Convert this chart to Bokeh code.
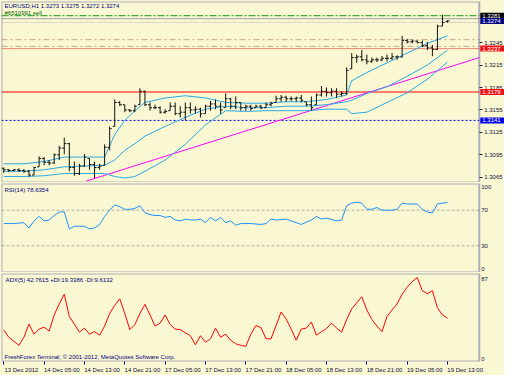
from bokeh.plotting import figure
from bokeh.models import (Range1d, FixedTicker, Label, NumeralTickFormatter, ColumnDataSource,
                          LinearAxis, BoxAnnotation)
from bokeh.layouts import column
from bokeh.embed import file_html
from bokeh.resources import INLINE

# ---------------- data ----------------
bar_idx = list(range(89))
opens = [1.3077,1.3075,1.3074,1.3075,1.3074,1.3073,1.3068,1.3079,1.3090,1.3085,
         1.3084,1.3095,1.3104,1.3110,1.3078,1.3070,1.3080,1.3090,1.3082,1.3078,
         1.3081,1.3105,1.3133,1.3165,1.3162,1.3155,1.3154,1.3162,1.3180,1.3162,
         1.3158,1.3158,1.3152,1.3154,1.3160,1.3150,1.3152,1.3158,1.3155,1.3156,
         1.3150,1.3160,1.3163,1.3160,1.3158,1.3170,1.3160,1.3165,1.3158,1.3160,
         1.3158,1.3160,1.3158,1.3162,1.3165,1.3170,1.3172,1.3170,1.3170,1.3171,
         1.3166,1.3162,1.3162,1.3175,1.3180,1.3178,1.3180,1.3176,1.3177,1.3210,
         1.3225,1.3226,1.3222,1.3220,1.3222,1.3222,1.3224,1.3224,1.3226,1.3226,
         1.3248,1.3246,1.3247,1.3245,1.3241,1.3238,1.3236,1.3267,1.3273]
highs = [1.3078,1.3076,1.3076,1.3077,1.3076,1.3075,1.3079,1.3093,1.3092,1.3088,
         1.3097,1.3107,1.3118,1.3111,1.3086,1.3083,1.3096,1.3090,1.3086,1.3083,
         1.3109,1.3133,1.3169,1.3167,1.3162,1.3156,1.3162,1.3184,1.3181,1.3165,
         1.3162,1.3160,1.3156,1.3165,1.3165,1.3160,1.3165,1.3165,1.3160,1.3158,
         1.3162,1.3167,1.3169,1.3165,1.3177,1.3171,1.3173,1.3165,1.3162,1.3162,
         1.3162,1.3162,1.3165,1.3166,1.3174,1.3175,1.3174,1.3173,1.3173,1.3175,
         1.3166,1.3173,1.3177,1.3187,1.3185,1.3184,1.3184,1.3180,1.3212,1.3231,
         1.3229,1.3235,1.3229,1.3225,1.3225,1.3227,1.3229,1.3231,1.3228,1.3254,
         1.3250,1.3249,1.3248,1.3248,1.3246,1.3242,1.3269,1.3282,1.3275]
lows = [1.3071,1.3072,1.3073,1.3072,1.3071,1.3066,1.3068,1.3079,1.3081,1.3081,
        1.3083,1.3088,1.3096,1.3073,1.3067,1.3068,1.3079,1.3075,1.3064,1.3075,
        1.3081,1.3101,1.3133,1.3160,1.3152,1.3152,1.3152,1.3162,1.3160,1.3154,
        1.3156,1.3150,1.3150,1.3154,1.3148,1.3145,1.3141,1.3150,1.3150,1.3145,
        1.3150,1.3154,1.3156,1.3150,1.3158,1.3156,1.3156,1.3154,1.3154,1.3154,
        1.3158,1.3156,1.3158,1.3160,1.3165,1.3166,1.3166,1.3167,1.3166,1.3165,
        1.3160,1.3154,1.3162,1.3173,1.3173,1.3173,1.3171,1.3173,1.3175,1.3210,
        1.3218,1.3220,1.3216,1.3218,1.3219,1.3220,1.3220,1.3222,1.3222,1.3225,
        1.3244,1.3244,1.3244,1.3239,1.3235,1.3227,1.3235,1.3267,1.3272]
closes = [1.3075,1.3074,1.3075,1.3074,1.3073,1.3068,1.3078,1.3090,1.3085,1.3084,
          1.3095,1.3104,1.3110,1.3078,1.3070,1.3080,1.3092,1.3082,1.3078,1.3080,
          1.3105,1.3130,1.3165,1.3162,1.3155,1.3154,1.3160,1.3180,1.3162,1.3158,
          1.3158,1.3152,1.3153,1.3160,1.3150,1.3152,1.3158,1.3155,1.3156,1.3150,
          1.3160,1.3163,1.3160,1.3155,1.3170,1.3160,1.3165,1.3158,1.3160,1.3157,
          1.3160,1.3158,1.3162,1.3164,1.3170,1.3172,1.3170,1.3170,1.3171,1.3168,
          1.3162,1.3158,1.3175,1.3180,1.3178,1.3180,1.3176,1.3177,1.3208,1.3225,
          1.3226,1.3222,1.3220,1.3222,1.3222,1.3224,1.3224,1.3226,1.3226,1.3248,
          1.3246,1.3247,1.3245,1.3241,1.3238,1.3236,1.3267,1.3272,1.3274]

bb_x = [0,4,8,12,16,20,22,24,26,28,32,36,40,44,48,52,56,60,64,68,69,72,76,80,84,88]
bb_upper = [1.3083,1.3083,1.3086,1.3092,1.3092,1.3092,1.3122,1.3141,1.3154,1.3165,1.3171,1.3174,1.3171,
            1.3165,1.3164,1.3164,1.3166,1.3166,1.3169,1.3175,1.3194,1.3205,1.3218,1.3231,1.3244,1.3254]
bb_middle = [1.3073,1.3073,1.3075,1.3079,1.3080,1.3081,1.3088,1.3101,1.3110,1.3120,1.3133,1.3145,1.3156,
             1.3160,1.3158,1.3158,1.3160,1.3160,1.3162,1.3166,1.3168,1.3177,1.3186,1.3200,1.3215,1.3235]
bb_lower = [1.3066,1.3066,1.3067,1.3070,1.3070,1.3070,1.3066,1.3064,1.3066,1.3073,1.3088,1.3109,1.3135,
            1.3154,1.3153,1.3154,1.3154,1.3154,1.3156,1.3156,1.3150,1.3152,1.3165,1.3178,1.3196,1.3219]

trend_x = [16.4, 94.3]
trend_y = [1.3060, 1.3225]

price_ticks = [1.3065, 1.3095, 1.3125, 1.3155, 1.3185, 1.3215, 1.3245]
level_prices = [1.3281, 1.3274, 1.3237, 1.3179, 1.3141]
level_box_colors = ["#000000", "#000080", "#F01010", "#F01010", "#0000F0"]

# horizontal lines on the price panel: price, colour, dash
hline_prices = [1.3281, 1.3277, 1.3272, 1.3249, 1.3240, 1.3237, 1.3179, 1.3141]
hline_colors = ["#129A12", "#A0A0A0", "#D4D4C8", "#C8A888", "#C8A888", "#F08070", "#FF0000", "#0000FF"]
hline_dashes = ["7 2 2 2", "solid", "solid", "6 3 2 3", "6 3 2 3", "solid", "solid", "2 2"]

rsi_x = [0,2,4,5,6,7,8,9,10,11,12,13,14,16,17,18,19,20,21,22,23,24,25,26,27,28,29,30,31,32,
         33,34,35,36,37,38,39,40,41,42,43,44,45,46,47,49,51,52,53,54,56,57,59,61,62,63,64,66,67,68,
         69,70,71,72,73,74,75,77,78,79,80,82,83,84,85,86,87,88]
rsi_v = [55,55,56,50,58,63,58,59,64,68,68,49,52,52,49,50,54,63,70,76,74,71,71,72,75,67,65,64,64,62,
         63,59,58,60,59,59,60,56,62,58,62,56,58,53,55,55,54,55,60,59,60,58,54,59,63,60,61,58,59,75,
         78,79,78,71,71,73,70,70,71,78,77,77,71,68,67,77,78,78.6]
rsi_levels = [30, 70]

adx_x = [0,1,3,4,5,6,7,8,9,10,11,12,13,14,15,16,17,18,19,20,21,22,23,24,25,26,27,28,29,30,
         31,32,33,34,35,36,37,38,39,40,41,42,43,44,45,46,47,48,49,50,51,52,53,54,55,56,57,58,59,60,
         61,62,63,64,65,66,67,68,69,71,72,73,74,75,76,77,78,79,80,81,82,83,84,85,86,87,88]
adx_v = [31,24,16,24,37,27,32,34,30,46,57,66.5,44.5,37,29,33,27,29.5,26,35,47.5,55.5,62,47.5,31.5,36.5,47.5,56.5,46,35,
         38,46,36.5,32,31.5,28.5,25.5,16.5,25.5,19,22.5,33,24,27,21,17.5,16,15,27,35.5,33.5,22.5,22.5,35.5,49,42,32,21,32,33,
         39,26,29.5,32.5,38,33,29,41.5,52,64,51,41.5,35,29.5,44.5,51,57,66.5,73.5,79,83,70,67,70,53,46,42.76]

date_ticks = [0, 8, 16, 24, 32, 40, 48, 56, 64, 72, 80, 88]
date_labels = ["13 Dec 2012", "14 Dec 05:00", "14 Dec 13:00", "14 Dec 21:00", "17 Dec 05:00",
               "17 Dec 13:00", "17 Dec 21:00", "18 Dec 05:00", "18 Dec 13:00", "18 Dec 21:00",
               "19 Dec 05:00", "19 Dec 13:00"]

# ---------------- style ----------------
BG = "#FAF8D2"
NAVY = "#000080"
FONT = "Liberation Sans"
FS = "6px"
FW = 503
X0, X1 = -0.45, 99.3
BORDER_X = 94.3          # right border of the chart area (price scale to its right)
x_range = Range1d(X0, X1)


def panel(frame_h, y0, y1, top, bottom, show_x=False):
    p = figure(frame_width=FW, frame_height=frame_h, x_range=x_range,
               y_range=Range1d(y0, y1), output_backend="svg", toolbar_location=None,
               y_axis_location=None, x_axis_location=("below" if show_x else None),
               min_border_left=1, min_border_right=0, min_border_top=top,
               min_border_bottom=bottom, background_fill_color=BG, border_fill_color=BG)
    p.grid.visible = False
    p.outline_line_color = None
    p.add_layout(BoxAnnotation(left=X0, right=BORDER_X, bottom=y0, top=y1, fill_color=None,
                               line_color=NAVY, line_width=2))
    ya = LinearAxis(fixed_location=BORDER_X)
    ya.axis_line_color = None
    ya.major_tick_out = 3
    ya.major_tick_in = 0
    ya.minor_tick_out = 0
    ya.minor_tick_in = 0
    ya.major_tick_line_color = "#202040"
    ya.major_label_text_font = FONT
    ya.major_label_text_font_size = FS
    ya.major_label_text_color = "#101040"
    ya.major_label_standoff = 2
    p.add_layout(ya, "right")
    return p, ya


def txt(p, x, y, s, color=NAVY, baseline="top"):
    p.add_layout(Label(x=x, y=y, x_units="screen", y_units="screen", text=s,
                       text_font=FONT, text_font_size=FS, text_color=color,
                       text_baseline=baseline, text_align="left"))


# ---------------- main price panel ----------------
MAIN_H = 181
pm, ym = panel(MAIN_H, 1.3058, 1.3300, 1, 0)
ym.ticker = FixedTicker(ticks=price_ticks)
ym.formatter = NumeralTickFormatter(format="0.0000")

for lv, col, dash in zip(hline_prices, hline_colors, hline_dashes):
    pm.segment(x0=[X0], y0=[lv], x1=[BORDER_X], y1=[lv], line_color=col, line_width=1, line_dash=dash)

pm.line(trend_x, trend_y, line_color="#FF00FF", line_width=1)

for band in (bb_upper, bb_middle, bb_lower):
    pm.line(bb_x, band, line_color="#2AA8E6", line_width=1)

src = ColumnDataSource(dict(x=bar_idx, o=opens, h=highs, l=lows, c=closes,
                            xl=[i - 0.4 for i in bar_idx], xr=[i + 0.4 for i in bar_idx]))
pm.segment(x0="x", y0="l", x1="x", y1="h", source=src, line_color="#111111", line_width=1)
pm.segment(x0="xl", y0="o", x1="x", y1="o", source=src, line_color="#111111", line_width=1)
pm.segment(x0="x", y0="c", x1="xr", y1="c", source=src, line_color="#111111", line_width=1)

for lv, col in zip(level_prices, level_box_colors):
    pm.add_layout(Label(x=BORDER_X, y=lv, x_offset=1, text="%.4f" % lv, text_font=FONT,
                        text_font_size=FS, text_color="white", text_align="left",
                        text_baseline="middle", background_fill_color=col,
                        padding=dict(left=2, right=5, top=1, bottom=1)))

txt(pm, 3, MAIN_H - 1, "EURUSD,H1  1.3273 1.3275 1.3272 1.3274")
txt(pm, 3, MAIN_H - 8, "#6510991 sell", color="#006400")

# ---------------- RSI panel ----------------
RSI_H = 89
pr, yr = panel(RSI_H, 0, 100, 1, 0)
yr.ticker = FixedTicker(ticks=[4, 30, 70, 96])
yr.major_label_overrides = {4: "0", 30: "30", 70: "70", 96: "100"}
yr.major_tick_out = 0
for lv in rsi_levels:
    pr.segment(x0=[X0], y0=[lv], x1=[BORDER_X], y1=[lv], line_color="#B0B0A8", line_width=1, line_dash="3 2")
pr.line(rsi_x, rsi_v, line_color="#1E90FF", line_width=1)
txt(pr, 3, RSI_H - 3, "RSI(14) 78.6354")

# ---------------- ADX panel ----------------
ADX_H = 88
pa, yadx = panel(ADX_H, 0, 87, 1, 13, show_x=True)
yadx.ticker = FixedTicker(ticks=[2.5, 81.6])
yadx.major_label_overrides = {2.5: "0", 81.6: "87"}
yadx.major_tick_out = 0
pa.line(adx_x, adx_v, line_color="#FF0000", line_width=1)
txt(pa, 4, ADX_H - 3, "ADX(5) 42.7615 +DI:19.3386 -DI:9.6132")
txt(pa, 3, 2, "FreshForex Terminal, \u00a9 2001-2012, MetaQuotes Software Corp.", baseline="bottom")

xa = pa.xaxis[0]
xa.ticker = FixedTicker(ticks=[t + 3.5 for t in date_ticks], minor_ticks=date_ticks)
xa.major_label_overrides = {t + 3.5: s for t, s in zip(date_ticks, date_labels)}
xa.axis_line_color = None
xa.major_tick_out = 0
xa.major_tick_in = 0
xa.minor_tick_out = 3
xa.minor_tick_in = 0
xa.minor_tick_line_color = NAVY
xa.major_label_text_font = FONT
xa.major_label_text_font_size = FS
xa.major_label_text_color = "#101040"
xa.major_label_standoff = 2

layout = column(pm, pr, pa, spacing=0, styles={"background-color": BG})
open("out.html", "w").write(file_html(layout, INLINE))
